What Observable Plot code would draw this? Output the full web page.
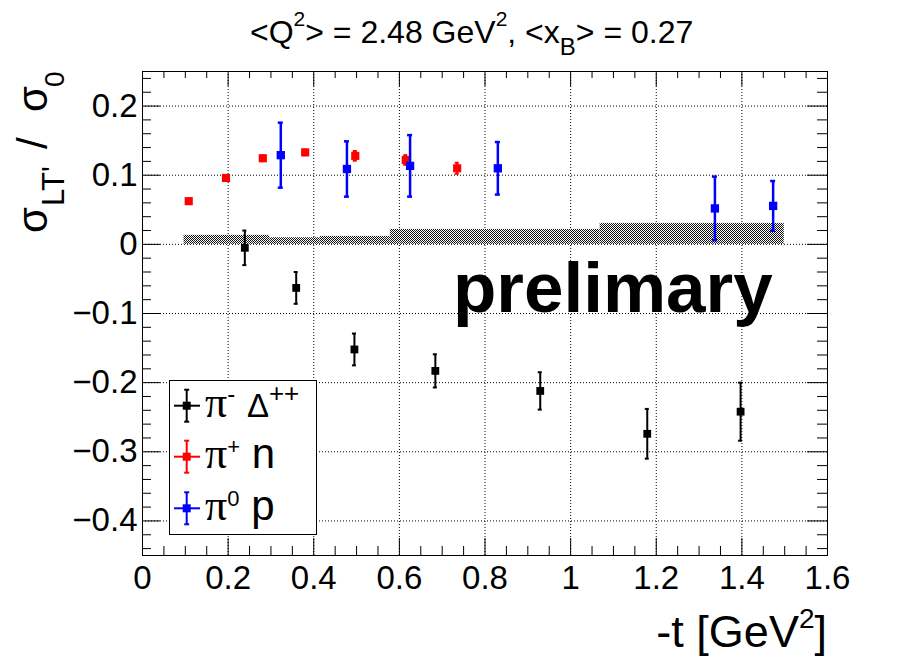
<!DOCTYPE html>
<html><head><meta charset="utf-8">
<script src="https://cdn.jsdelivr.net/npm/d3@7"></script>
<script src="https://cdn.jsdelivr.net/npm/@observablehq/plot@0.6"></script>
<style>body{margin:0;background:#fff} text{white-space:pre}</style>
</head><body><div id="chart"></div>
<script>
// ---- data ----
const piMinusT   = [0.239, 0.359, 0.495, 0.684, 0.929, 1.179, 1.397];
const piMinusVal = [-0.005, -0.063, -0.152, -0.183, -0.212, -0.274, -0.242];
const piMinusErr = [0.025, 0.023, 0.023, 0.024, 0.027, 0.036, 0.042];

const piPlusT   = [0.108, 0.195, 0.281, 0.380, 0.497, 0.615, 0.735];
const piPlusVal = [0.0625, 0.096, 0.1245, 0.133, 0.128, 0.122, 0.110];
const piPlusErr = [0.003, 0.003, 0.004, 0.004, 0.007, 0.007, 0.008];

const piZeroT   = [0.323, 0.4775, 0.625, 0.830, 1.337, 1.473];
const piZeroVal = [0.129, 0.109, 0.1135, 0.110, 0.052, 0.0556];
const piZeroErr = [0.047, 0.040, 0.0445, 0.038, 0.046, 0.036];

const sysLo  = [0.097, 0.297, 0.415, 0.579, 1.069];
const sysHi  = [0.297, 0.415, 0.579, 1.069, 1.499];
const sysVal = [0.013, 0.0096, 0.0115, 0.0216, 0.0303];

const xTicks = [0, 0.2, 0.4, 0.6, 0.8, 1.0, 1.2, 1.4, 1.6];
const xTickLabels = ["0", "0.2", "0.4", "0.6", "0.8", "1", "1.2", "1.4", "1.6"];
const yTicks = [-0.4, -0.3, -0.2, -0.1, 0, 0.1, 0.2];
const yTickLabels = ["\u22120.4", "\u22120.3", "\u22120.2", "\u22120.1", "0", "0.1", "0.2"];

const seriesNames  = ["\u03c0\u207b \u0394\u207a\u207a", "\u03c0\u207a n", "\u03c0\u2070 p"];
const seriesColors = ["#000000", "#ff0000", "#0000ff"];

// ---- build tables ----
const mk = (T, V, E) => T.map((t, i) => ({t, v: V[i], e: E[i]}));
const piMinus = mk(piMinusT, piMinusVal, piMinusErr);
const piPlus  = mk(piPlusT, piPlusVal, piPlusErr);
const piZero  = mk(piZeroT, piZeroVal, piZeroErr);
const bands = sysLo.map((lo, i) => ({lo, hi: sysHi[i], v: sysVal[i]}));

const W = 898, H = 671;
const mL = 142, mR = 71, mT = 71, mB = 116;
const pw = W - mL - mR, ph = H - mT - mB;

const near = (v, s) => Math.abs(v / s - Math.round(v / s)) < 1e-6;
const xMinor = d3.range(0, 1.6001, 0.05).filter(v => !near(v, 0.2));
const yMinor = d3.range(-0.44, 0.2501, 0.02).filter(v => !near(v, 0.1));

function errMarks(data, color, sw, cap, r) {
  return [
    Plot.ruleX(data, {x: "t", y1: d => d.v - d.e, y2: d => d.v + d.e, stroke: color, strokeWidth: sw}),
    Plot.ruleY(data, {y: d => d.v + d.e, x1: "t", x2: "t", insetLeft: -cap, insetRight: -cap, stroke: color, strokeWidth: sw}),
    Plot.ruleY(data, {y: d => d.v - d.e, x1: "t", x2: "t", insetLeft: -cap, insetRight: -cap, stroke: color, strokeWidth: sw}),
    Plot.dot(data, {x: "t", y: "v", symbol: "square", r, fill: color})
  ];
}

const svg = Plot.plot({
  width: W, height: H,
  marginLeft: mL, marginRight: mR, marginTop: mT, marginBottom: mB,
  style: {fontFamily: "'Liberation Sans', Arial, sans-serif", background: "white", color: "black"},
  x: {domain: [0, 1.6]},
  y: {domain: [-0.45, 0.25]},
  marks: [
    Plot.gridX(xTicks, {stroke: "black", strokeOpacity: 1, strokeDasharray: "1,2"}),
    Plot.gridY(yTicks, {stroke: "black", strokeOpacity: 1, strokeDasharray: "1,2"}),
    Plot.rect(bands, {x1: "lo", x2: "hi", y1: 0, y2: "v", fill: "url(#hatch)"}),
    ...errMarks(piPlus, "#ff0000", 2, 2, 4.6),
    ...errMarks(piZero, "#0000ff", 2.5, 2.5, 4.7),
    ...errMarks(piMinus, "#000000", 2, 2, 4.4),
    // ticks (inside the frame, ROOT style)
    Plot.tickX(xTicks, {x: d => d, insetTop: ph - 17, stroke: "black"}),
    Plot.tickX(xMinor, {x: d => d, insetTop: ph - 9, stroke: "black"}),
    Plot.tickX(xTicks, {x: d => d, insetBottom: ph - 15, stroke: "black"}),
    Plot.tickX(xMinor, {x: d => d, insetBottom: ph - 7, stroke: "black"}),
    Plot.tickY(yTicks, {y: d => d, insetRight: pw - 18, stroke: "black"}),
    Plot.tickY(yMinor, {y: d => d, insetRight: pw - 9, stroke: "black"}),
    Plot.tickY(yTicks, {y: d => d, insetLeft: pw - 20, stroke: "black"}),
    Plot.tickY(yMinor, {y: d => d, insetLeft: pw - 10, stroke: "black"}),
    Plot.axisX(xTicks, {tickSize: 0, tickPadding: 10, fontSize: 33, label: null,
      tickFormat: d => xTickLabels[xTicks.indexOf(d)]}),
    Plot.axisY(yTicks, {tickSize: 0, tickPadding: 5, fontSize: 33, label: null,
      tickFormat: d => yTickLabels[yTicks.findIndex(v => Math.abs(v - d) < 1e-9)]}),
    Plot.frame({stroke: "black", strokeWidth: 1})
  ]
});

const s = d3.select(svg);
const defs = s.insert("defs", ":first-child");
const pat = defs.append("pattern").attr("id", "hatch").attr("patternUnits", "userSpaceOnUse")
  .attr("width", 2).attr("height", 2);
pat.append("rect").attr("width", 2).attr("height", 2).attr("fill", "white");
pat.append("rect").attr("x", 0).attr("y", 0).attr("width", 1).attr("height", 1).attr("fill", "#111").attr("shape-rendering", "crispEdges");
pat.append("rect").attr("x", 1).attr("y", 1).attr("width", 1).attr("height", 1).attr("fill", "#111").attr("shape-rendering", "crispEdges");

const FONT = "'Liberation Sans', Arial, sans-serif";
const SERIF = "'Liberation Serif', 'Times New Roman', serif";
function rich(textSel, parts) {
  let cur = 0;
  parts.forEach(p => {
    const t = textSel.append("tspan").text(p.t);
    const off = p.dy || 0;
    t.attr("dy", off - cur); cur = off;
    if (p.x != null) t.attr("x", p.x);
    if (p.size) t.attr("font-size", p.size);
    if (p.family) t.attr("font-family", p.family);
    if (p.weight) t.attr("font-weight", p.weight);
  });
  return textSel;
}
const txt = (sel) => sel.append("text").attr("text-anchor", "start").attr("font-family", FONT).attr("fill", "black");

// title
rich(txt(s).attr("x", 250).attr("y", 43).attr("font-size", 32), [
  {t: "<Q"}, {t: "2", size: 21, dy: -17}, {t: "> = 2.48 GeV"}, {t: "2", size: 21, dy: -17},
  {t: ", <x"}, {t: "B", size: 24, dy: 12}, {t: "> = 0.27"}
]);

// y label (rotated)
rich(txt(s).attr("transform", "translate(47,233) rotate(-90)").attr("font-size", 42), [
  {t: "\u03c3", x: 0}, {t: "LT'", size: 31, dy: 17, x: 27}, {t: "/", x: 84}, {t: "\u03c3", x: 121},
  {t: "0", size: 28, dy: 17, x: 146}
]);

// x label
rich(txt(s).attr("x", 827).attr("y", 647).attr("text-anchor", "end").attr("font-size", 45), [
  {t: "-t [GeV"}, {t: "2", size: 28, dy: -19}, {t: "]"}
]);

// preliminary watermark
txt(s).attr("x", 453).attr("y", 312).attr("font-size", 71).attr("font-weight", "bold").text("prelimary");

// legend
const lg = s.append("g");
lg.append("rect").attr("x", 169.5).attr("y", 380.5).attr("width", 147).attr("height", 154)
  .attr("fill", "white").attr("stroke", "black").attr("stroke-width", 1);
const rowY = [405.7, 456.7, 508.3];
const legParts = [
  [{t: "\u03c0", family: SERIF, size: 44}, {t: "-", size: 24, dy: -15}, {t: " "}, {t: "\u0394", size: 33}, {t: "++", size: 26, dy: -15}],
  [{t: "\u03c0", family: SERIF, size: 44}, {t: "+", size: 22, dy: -14}, {t: " n"}],
  [{t: "\u03c0", family: SERIF, size: 44}, {t: "0", size: 22, dy: -14}, {t: " p"}]
];
seriesColors.forEach((c, i) => {
  const cy = rowY[i], cx = 186.7;
  lg.append("line").attr("x1", 174).attr("x2", 200).attr("y1", cy).attr("y2", cy).attr("stroke", c).attr("stroke-width", 2);
  lg.append("line").attr("x1", cx).attr("x2", cx).attr("y1", cy - 16).attr("y2", cy + 16).attr("stroke", c).attr("stroke-width", 2);
  lg.append("line").attr("x1", cx - 2.5).attr("x2", cx + 2.5).attr("y1", cy - 16).attr("y2", cy - 16).attr("stroke", c).attr("stroke-width", 2);
  lg.append("line").attr("x1", cx - 2.5).attr("x2", cx + 2.5).attr("y1", cy + 16).attr("y2", cy + 16).attr("stroke", c).attr("stroke-width", 2);
  lg.append("rect").attr("x", cx - 4).attr("y", cy - 4).attr("width", 8).attr("height", 8).attr("fill", c);
  const tx = txt(lg).attr("x", 205).attr("y", cy + 11.5).attr("font-size", 42).attr("aria-label", seriesNames[i]);
  rich(tx, legParts[i]);
});

document.getElementById("chart").appendChild(svg);
</script></body></html>
